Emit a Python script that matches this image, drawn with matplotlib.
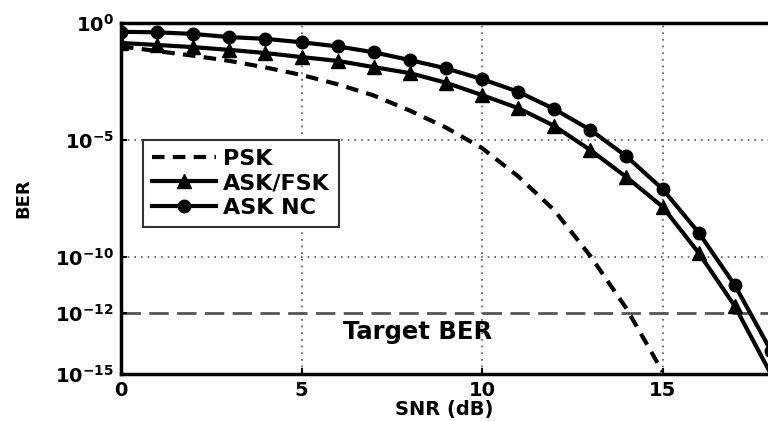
import numpy as np
import matplotlib
matplotlib.use("Agg")
import matplotlib.pyplot as plt

# --- data (BER vs SNR in dB) ---
snr = list(range(0, 19))
ber_ask_nc = [4.2e-1, 4.0e-1, 3.4e-1, 2.5e-1, 2.1e-1, 1.5e-1, 1.0e-1, 5.6e-2,
              2.6e-2, 1.15e-2, 4.0e-3, 1.15e-3, 2.1e-4, 2.7e-5, 2.0e-6, 8.0e-8,
              1.1e-9, 6.3e-12, 1.0e-14]
ber_ask_fsk = [1.4e-1, 1.15e-1, 9.3e-2, 7.1e-2, 5.2e-2, 3.5e-2, 2.4e-2, 1.3e-2,
               7.2e-3, 2.8e-3, 8.3e-4, 2.3e-4, 4.0e-5, 3.7e-6, 2.6e-7, 1.4e-8,
               1.5e-10, 8.0e-13, 1.0e-15]
snr_psk = list(range(0, 16))
ber_psk = [1.0e-1, 6.3e-2, 4.0e-2, 2.4e-2, 1.26e-2, 6.0e-3, 2.4e-3, 8.0e-4,
           1.8e-4, 3.4e-5, 4.5e-6, 2.8e-7, 1.0e-8, 1.1e-10, 6.3e-13, 1.26e-15]
# the target line (and its "10^-12" tick) sits a bit below 1e-12 in the source
target_ber = 4e-13

x_ticks = [0, 5, 10, 15]
y_ticks = [1e0, 1e-5, 1e-10, target_ber, 1e-15]
y_tick_labels = [r'$\mathbf{10^{0}}$', r'$\mathbf{10^{-5}}$', r'$\mathbf{10^{-10}}$',
                 r'$\mathbf{10^{-12}}$', r'$\mathbf{10^{-15}}$']
grid_y = [1e-5, 1e-10]

plt.rcParams['font.family'] = ['DejaVu Sans']
plt.rcParams['mathtext.fontset'] = 'dejavusans'

fig = plt.figure(figsize=(7.68, 4.21), dpi=100)
ax = fig.add_axes([0.1576, 0.1116, 0.8424, 0.8338])

# dotted grid (not on the target line)
for xv in x_ticks[1:]:
    ax.axvline(xv, color='#555555', ls=(0, (1, 3)), lw=1.2, zorder=0)
for yv in grid_y:
    ax.axhline(yv, color='#555555', ls=(0, (1, 3)), lw=1.2, zorder=0)

ax.semilogy(snr_psk, ber_psk, color='black', lw=3, ls=(0, (3, 2)), label='PSK')
ax.semilogy(snr, ber_ask_fsk, color='black', lw=3, marker='^', ms=9.5, label='ASK/FSK')
ax.semilogy(snr, ber_ask_nc, color='black', lw=3, marker='o', ms=9, label='ASK NC')

# target line
ax.axhline(target_ber, color='#555555', lw=2, ls=(0, (7, 3)), zorder=1)
ax.text(6.15, 10**-13.2, 'Target BER', fontsize=17.5, fontweight='bold',
        va='center', ha='left')

ax.set_xlim(0, 17.92)
ax.set_ylim(1e-15, 1e0)
ax.set_xticks(x_ticks)
ax.set_xticklabels([str(t) for t in x_ticks], fontsize=14, fontweight='bold')
ax.set_yticks(y_ticks)
ax.set_yticklabels(y_tick_labels, fontsize=14)
ax.yaxis.set_minor_locator(matplotlib.ticker.NullLocator())
ax.tick_params(direction='in', length=4, width=1.5, pad=5)

for s in ['left', 'bottom', 'top']:
    ax.spines[s].set_linewidth(2.5)
ax.spines['right'].set_visible(False)

ax.set_xlabel('SNR (dB)', fontsize=14, fontweight='bold', labelpad=0)
ax.set_ylabel('BER', fontsize=13, fontweight='bold', labelpad=16)

leg = ax.legend(loc='upper left', bbox_to_anchor=(0.034, 0.667),
                prop={'weight': 'bold', 'size': 16}, handlelength=2.9,
                fancybox=False, framealpha=1, borderpad=0.4, labelspacing=0.2,
                handletextpad=0.3, borderaxespad=0)
leg.get_frame().set_edgecolor('#333333')
leg.get_frame().set_linewidth(1.5)

fig.savefig('out.png', dpi=100)
